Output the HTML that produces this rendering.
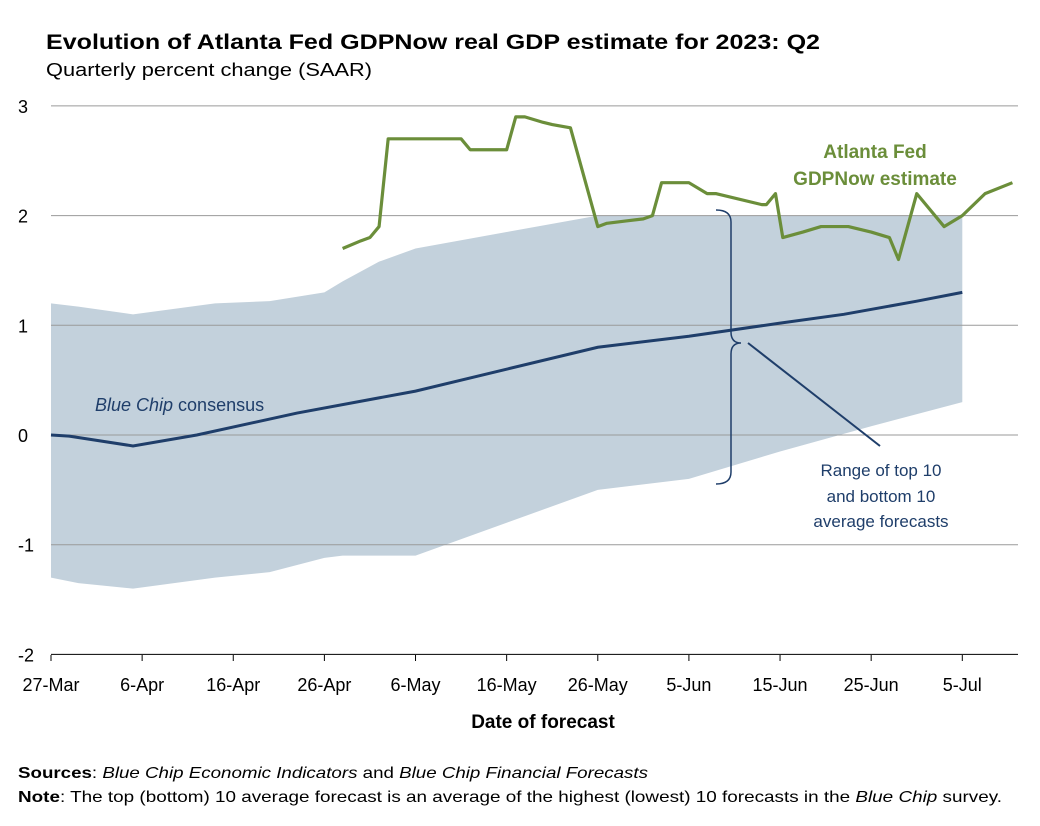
<!DOCTYPE html>
<html><head><meta charset="utf-8">
<style>
body{margin:0;background:#fff;font-family:"Liberation Sans",sans-serif;}
#wrap{position:relative;width:1040px;height:826px;overflow:hidden;}
svg text{font-family:"Liberation Sans",sans-serif;}
</style></head>
<body>
<div id="wrap">
<svg id="chart" width="1040" height="826"></svg>
</div>
<script>
// Data: x in days since 27-Mar
const xTickLabels=["27-Mar","6-Apr","16-Apr","26-Apr","6-May","16-May","26-May","5-Jun","15-Jun","25-Jun","5-Jul"];
const xTickDays=[0,10,20,30,40,50,60,70,80,90,100];
const yTicks=[3,2,1,0,-1,-2];
const gdpDays=[32,34,35,36,37,45,46,50,51,52,54,55,57,60,61,63,65,66,67,70,72,73,78,78.5,79.5,80.3,82.5,84.5,87.5,90,92,93,95,98,100,102.5,105.5];
const gdpVals=[1.7,1.77,1.8,1.9,2.7,2.7,2.6,2.6,2.9,2.9,2.85,2.83,2.8,1.9,1.93,1.95,1.97,2.0,2.3,2.3,2.2,2.2,2.1,2.1,2.2,1.8,1.85,1.9,1.9,1.85,1.8,1.6,2.2,1.9,2.0,2.2,2.3];
const bandDays=[0,3,9,18,24,30,32,36,40,50,60,70,80,90,100];
const bandUpper=[1.2,1.17,1.1,1.2,1.22,1.3,1.4,1.58,1.7,1.85,2.0,2.0,2.0,2.0,2.0];
const bandLower=[-1.3,-1.35,-1.4,-1.3,-1.25,-1.12,-1.1,-1.1,-1.1,-0.8,-0.5,-0.4,-0.15,0.08,0.3];
const consDays=[0,2,9,16,27,40,50,60,70,80,87,95,100];
const consVals=[0,-0.01,-0.1,0,0.2,0.4,0.6,0.8,0.9,1.02,1.1,1.22,1.3];

const svg=document.getElementById('chart');
const NS='http://www.w3.org/2000/svg';
const X=d=>51+d*9.113;
const Y=v=>435-v*109.7;
function mk(tag,attrs,text){const e=document.createElementNS(NS,tag);for(const k in attrs)e.setAttribute(k,attrs[k]);if(text!==undefined)e.textContent=text;svg.appendChild(e);return e;}

let t;
t=mk('text',{x:46,y:49,'font-size':21,'font-weight':'bold',fill:'#000',textLength:774,lengthAdjust:'spacingAndGlyphs'},'Evolution of Atlanta Fed GDPNow real GDP estimate for 2023: Q2');


t=mk('text',{x:46,y:76,'font-size':18,fill:'#000',textLength:326,lengthAdjust:'spacingAndGlyphs'},'Quarterly percent change (SAAR)');



let pts=bandDays.map((d,i)=>X(d)+','+Y(bandUpper[i]));
for(let i=bandDays.length-1;i>=0;i--)pts.push(X(bandDays[i])+','+Y(bandLower[i]));
t=mk('polygon',{points:pts.join(' '),fill:'#c3d1dc'});



yTicks.forEach(v=>{
 const g=mk('line',{x1:51,x2:1018,y1:Y(v),y2:Y(v),stroke:v===-2?'#000':'#9a9a9a','stroke-width':1});
 
 
 const l=mk('text',{x:18,y:Y(v)+7,'font-size':18,fill:'#000'},String(v));
 
 
});
xTickDays.forEach((d,i)=>{
 const tk=mk('line',{x1:X(d),x2:X(d),y1:655,y2:661,stroke:'#000'});
 
 
 const l=mk('text',{x:X(d),y:691,'font-size':18,'text-anchor':'middle',fill:'#000'},xTickLabels[i]);
 
 
});

t=mk('polyline',{points:consDays.map((d,i)=>X(d)+','+Y(consVals[i])).join(' '),fill:'none',stroke:'#1f3e6a','stroke-width':3});


t=mk('polyline',{points:gdpDays.map((d,i)=>X(d)+','+Y(gdpVals[i])).join(' '),fill:'none',stroke:'#6b8e3a','stroke-width':3.2,'stroke-linejoin':'round'});



t=mk('path',{d:'M716 210 Q731 210 731 222 L731 332 Q731 343 741 343 Q731 343 731 354 L731 472 Q731 484 716 484',fill:'none',stroke:'#1f3e6a','stroke-width':1.5});


t=mk('line',{x1:748,y1:343,x2:880,y2:446,stroke:'#1f3e6a','stroke-width':2});



[['Range of top 10',476],['and bottom 10',502],['average forecasts',527]].forEach(([s,y])=>{
 const l=mk('text',{x:881,y:y,'font-size':17,'text-anchor':'middle',fill:'#1f3e6a'},s);
 
 
});
[['Atlanta Fed',158],['GDPNow estimate',185]].forEach(([s,y])=>{
 const l=mk('text',{x:875,y:y,'font-size':19,'font-weight':'bold','text-anchor':'middle',fill:'#6b8e3a'},s);
 
 
});
t=mk('text',{x:95,y:411,'font-size':18,fill:'#1f3e6a'});
t.innerHTML='<tspan font-style="italic">Blue Chip</tspan> consensus';



t=mk('text',{x:543,y:728,'font-size':19,'font-weight':'bold','text-anchor':'middle',fill:'#000'},'Date of forecast');


t=mk('text',{x:18,y:778,'font-size':16,fill:'#000',textLength:630,lengthAdjust:'spacingAndGlyphs'});
t.innerHTML='<tspan font-weight="bold">Sources</tspan>: <tspan font-style="italic">Blue Chip Economic Indicators</tspan> and <tspan font-style="italic">Blue Chip Financial Forecasts</tspan>';


t=mk('text',{x:18,y:802,'font-size':16,fill:'#000',textLength:984,lengthAdjust:'spacingAndGlyphs'});
t.innerHTML='<tspan font-weight="bold">Note</tspan>: The top (bottom) 10 average forecast is an average of the highest (lowest) 10 forecasts in the <tspan font-style="italic">Blue Chip</tspan> survey.';


</script>
</body></html>
